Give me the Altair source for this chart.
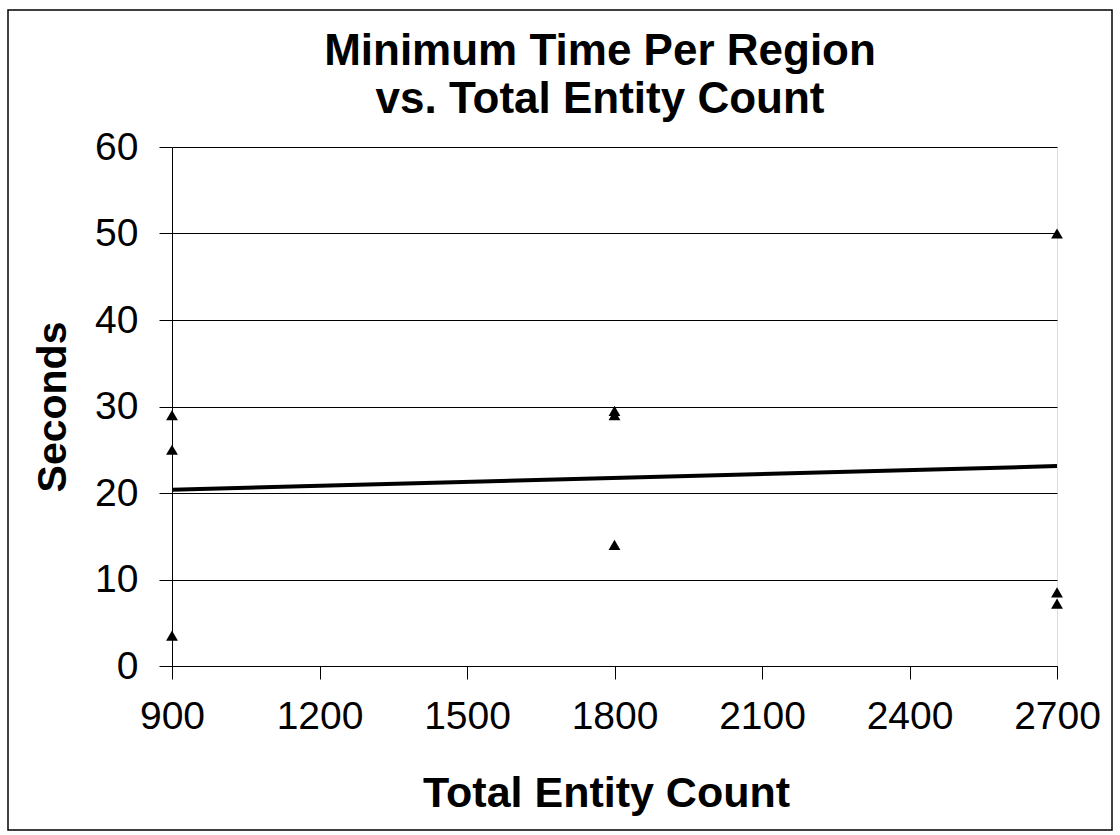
import altair as alt
import pandas as pd

# Data
entity_counts = [900, 900, 900, 1800, 1800, 1800, 2700, 2700, 2700]
seconds = [29.0, 25.0, 3.5, 29.5, 29.0, 14.0, 50.0, 8.5, 7.2]
x_ticks = [900, 1200, 1500, 1800, 2100, 2400, 2700]
y_ticks = [0, 10, 20, 30, 40, 50, 60]
title_lines = ["Minimum Time Per Region", "vs. Total Entity Count"]

df = pd.DataFrame({"count": entity_counts, "seconds": seconds})

FONT = "Liberation Sans"
W, H = 885, 519
PAD_L, PAD_T = 172, 147

axis_common = dict(
    labelFont=FONT, titleFont=FONT, labelColor="black", titleColor="black",
    domainColor="black", tickColor="black", gridColor="black",
    domainWidth=1, tickWidth=1, gridWidth=1, gridOpacity=1,
    labelFontSize=39, titleFontWeight="bold", tickSize=13,
    format="d",
)

x_enc = alt.X(
    "count:Q",
    scale=alt.Scale(domain=[900, 2700], nice=False, zero=False),
    axis=alt.Axis(
        values=x_ticks, title="Total Entity Count", grid=False,
        titleFontSize=43, labelPadding=18, titlePadding=36,
        titleX=434, labelFlush=False, labelOverlap=False,
        **axis_common,
    ),
)
y_enc = alt.Y(
    "seconds:Q",
    scale=alt.Scale(domain=[0, 60], nice=False),
    axis=alt.Axis(
        values=y_ticks, title="Seconds", grid=True,
        titleFontSize=41, labelPadding=21, titlePadding=20,
        **axis_common,
    ),
)

points = alt.Chart(df).mark_point(
    shape="triangle-up", filled=True, color="black", size=140, opacity=1
).encode(x=x_enc, y=y_enc)

trend = alt.Chart(df).transform_regression(
    "count", "seconds", extent=[900, 2700]
).mark_line(color="black", strokeWidth=4).encode(
    x=alt.X("count:Q"), y=alt.Y("seconds:Q")
)

frame = alt.Chart(pd.DataFrame({"k": [0]})).mark_rect(
    fillOpacity=0, stroke="black", strokeWidth=1.5
).encode(
    x=alt.value(-164), x2=alt.value(940), y=alt.value(-137), y2=alt.value(683)
)

title1 = alt.Chart(pd.DataFrame({"t": [title_lines[0]]})).mark_text(
    font=FONT, fontSize=44, fontWeight="bold", color="black",
    align="center", baseline="middle"
).encode(text="t:N", x=alt.value(428), y=alt.value(-95))

title2 = alt.Chart(pd.DataFrame({"t": [title_lines[1]]})).mark_text(
    font=FONT, fontSize=44, fontWeight="bold", color="black",
    align="center", baseline="middle"
).encode(text="t:N", x=alt.value(428), y=alt.value(-47))

chart = alt.layer(trend, points, frame, title1, title2).properties(
    width=W, height=H,
    autosize=alt.AutoSizeParams(type="none"),
    padding={"left": PAD_L, "top": PAD_T, "right": 1120 - PAD_L - W, "bottom": 835 - PAD_T - H},
).configure_view(
    stroke="black", strokeWidth=1
).configure(background="white")

chart.save("out.html", embed_options={"renderer": "svg", "actions": False})
